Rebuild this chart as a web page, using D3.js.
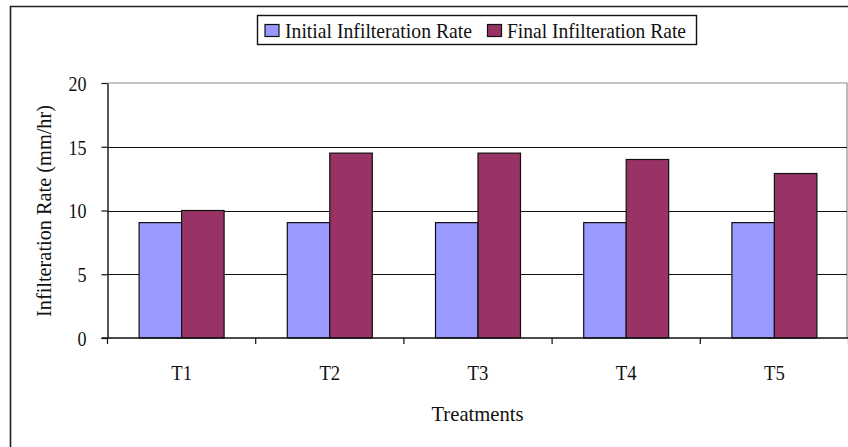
<!DOCTYPE html>
<html>
<head>
<meta charset="utf-8">
<script src="https://cdn.jsdelivr.net/npm/d3@7"></script>
<style>
  html, body { margin: 0; padding: 0; background: #fff; }
  svg { display: block; font-family: "Liberation Serif", "Times New Roman", serif; }
  text { fill: #111; }
</style>
</head>
<body>
<svg id="chart" width="848" height="447"></svg>
<script>
// Infiltration rate per treatment
const categories = ["T1", "T2", "T3", "T4", "T5"];
const initialRate = [9.05, 9.05, 9.05, 9.05, 9.05];
const finalRate = [10, 14.5, 14.5, 14, 12.9];
const seriesNames = ["Initial Infilteration Rate", "Final Infilteration Rate"];
const seriesColors = ["#9999FF", "#993366"];
const yTicks = [0, 5, 10, 15, 20];

const FONT = 22;
const svg = d3.select("#chart");
const plot = { left: 107.5, top: 83, bottom: 338, right: 847 };

// Narrow the glyphs horizontally (tall, condensed serif look)
function condense(sel, factor) {
  sel.each(function () {
    const w = this.getComputedTextLength();
    d3.select(this).attr("textLength", w * factor).attr("lengthAdjust", "spacingAndGlyphs");
  });
}

// Outer chart frame
svg.append("path")
  .attr("d", `M10.5,447 V6.5 H848`)
  .attr("fill", "none").attr("stroke", "#222").attr("stroke-width", 1.6);

const x = d3.scaleBand().domain(categories).range([plot.left, plot.left + 148.2 * 5]);
const y = d3.scaleLinear().domain([0, 20]).range([plot.bottom, plot.top]);

// Plot area border (top/right in grey)
svg.append("path")
  .attr("d", `M${plot.left},${plot.top} H${plot.right} V${plot.bottom}`)
  .attr("fill", "none").attr("stroke", "#8c8c8c").attr("stroke-width", 1.2);

// Horizontal gridlines
svg.append("g").selectAll("line")
  .data(yTicks.filter(t => t > 0 && t < 20))
  .join("line")
  .attr("x1", plot.left).attr("x2", plot.right)
  .attr("y1", d => Math.round(y(d)) + 0.5).attr("y2", d => Math.round(y(d)) + 0.5)
  .attr("stroke", "#111").attr("stroke-width", 1);

// Bars
const barW = 42.5;
const rows = categories.map((c, i) => ({ c, vals: [initialRate[i], finalRate[i]] }));
const groups = svg.append("g").selectAll("g")
  .data(rows).join("g")
  .attr("transform", d => `translate(${x(d.c) + x.bandwidth() / 2 - barW},0)`);
groups.selectAll("rect")
  .data(d => d.vals.map((v, j) => ({ v, j })))
  .join("rect")
  .attr("x", d => d.j * barW)
  .attr("y", d => y(d.v))
  .attr("width", barW)
  .attr("height", d => y(0) - y(d.v))
  .attr("fill", d => seriesColors[d.j])
  .attr("stroke", "#111").attr("stroke-width", 1.2);

// Y axis
const yAxis = svg.append("g")
  .attr("transform", `translate(${plot.left},0)`)
  .call(d3.axisLeft(y).tickValues(yTicks).tickSize(6).tickSizeOuter(0).tickPadding(15));
yAxis.select(".domain").attr("stroke", "#111").attr("stroke-width", 1.4);
yAxis.selectAll(".tick line").attr("stroke", "#111").attr("stroke-width", 1.2);
yAxis.selectAll("text").attr("font-size", FONT).attr("fill", "#111")
  .attr("font-family", "Liberation Serif, serif").attr("dy", "0.34em")
  .call(condense, 0.82);

// X axis
const xAxis = svg.append("g")
  .attr("transform", `translate(0,${plot.bottom})`)
  .call(d3.axisBottom(x).tickSize(0).tickPadding(0));
xAxis.select(".domain").remove();
svg.append("line")
  .attr("x1", plot.left - 6).attr("x2", 848)
  .attr("y1", plot.bottom).attr("y2", plot.bottom)
  .attr("stroke", "#111").attr("stroke-width", 1.4);
// Category separators
svg.append("g").selectAll("line")
  .data(d3.range(categories.length + 1))
  .join("line")
  .attr("x1", i => plot.left + i * x.step()).attr("x2", i => plot.left + i * x.step())
  .attr("y1", plot.bottom).attr("y2", plot.bottom + 6)
  .attr("stroke", "#111").attr("stroke-width", 1.2);
xAxis.selectAll("text").attr("font-size", FONT).attr("fill", "#111")
  .attr("font-family", "Liberation Serif, serif")
  .attr("y", 42).attr("dy", 0)
  .call(condense, 0.85);

// Axis titles
svg.append("text")
  .attr("x", 477.5).attr("y", 421)
  .attr("text-anchor", "middle").attr("font-size", FONT)
  .attr("textLength", 92).attr("lengthAdjust", "spacingAndGlyphs")
  .text("Treatments");
svg.append("text")
  .attr("transform", "translate(51,211) rotate(-90)")
  .attr("text-anchor", "middle").attr("font-size", FONT)
  .attr("textLength", 212).attr("lengthAdjust", "spacingAndGlyphs")
  .text("Infilteration Rate (mm/hr)");

// Legend
const legend = svg.append("g");
legend.append("rect")
  .attr("x", 257.5).attr("y", 15.5).attr("width", 439).attr("height", 29)
  .attr("fill", "#fff").attr("stroke", "#111").attr("stroke-width", 1.4);
const legendSwatchX = [265, 487.5];
const legendTextX = [285, 507];
const legendTextW = [187, 179];
seriesNames.forEach((name, i) => {
  legend.append("rect")
    .attr("x", legendSwatchX[i]).attr("y", 24.5).attr("width", 14).attr("height", 12)
    .attr("fill", seriesColors[i]).attr("stroke", "#111").attr("stroke-width", 1.2);
  legend.append("text")
    .attr("x", legendTextX[i]).attr("y", 38)
    .attr("font-size", FONT)
    .attr("textLength", legendTextW[i]).attr("lengthAdjust", "spacingAndGlyphs")
    .text(name);
});
</script>
</body>
</html>
